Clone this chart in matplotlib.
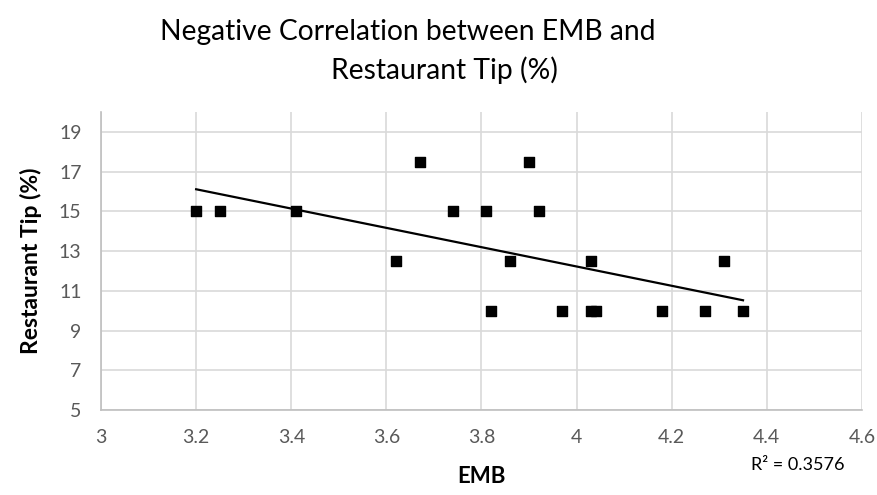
import numpy as np
import matplotlib.pyplot as plt

# EMB score vs restaurant tip (%)
emb = [3.20, 3.25, 3.41, 3.62, 3.67, 3.74, 3.81, 3.82, 3.86, 3.90,
       3.92, 3.97, 4.03, 4.03, 4.04, 4.18, 4.27, 4.31, 4.35]
tip = [15, 15, 15, 12.5, 17.5, 15, 15, 10, 12.5, 17.5,
       15, 10, 12.5, 10, 10, 10, 10, 12.5, 10]

x_ticks = [3, 3.2, 3.4, 3.6, 3.8, 4, 4.2, 4.4, 4.6]
y_ticks = [5, 7, 9, 11, 13, 15, 17, 19]

plt.rcParams['font.family'] = ['Lato', 'DejaVu Sans']

x = np.array(emb)
y = np.array(tip)
slope, intercept = np.polyfit(x, y, 1)
fit = slope * x + intercept
r2 = 1 - np.sum((y - fit) ** 2) / np.sum((y - y.mean()) ** 2)

fig = plt.figure(figsize=(8.77, 4.95), dpi=100)
ax = fig.add_axes([0.1152, 0.1717, 0.8676, 0.602])

ax.scatter(x, y, marker='s', s=52, color='black', zorder=3)
xs = np.array([x.min(), x.max()])
ax.plot(xs, slope * xs + intercept, color='black', lw=1.6, zorder=4)

ax.set_xlim(3, 4.6)
ax.set_ylim(5, 20)
ax.set_xticks(x_ticks)
ax.set_xticklabels([f'{t:g}' for t in x_ticks])
ax.set_yticks(y_ticks)
ax.grid(True, color='#d9d9d9', lw=1.2)
ax.set_axisbelow(True)
for side in ['top', 'right']:
    ax.spines[side].set_visible(False)
for side in ['left', 'bottom']:
    ax.spines[side].set_color('#bfbfbf')
    ax.spines[side].set_linewidth(1.2)
ax.tick_params(length=0, labelsize=14, colors='#595959')
ax.tick_params(axis='y', pad=14)
ax.tick_params(axis='x', pad=14)

ax.set_xlabel('EMB', fontsize=16, fontweight='bold', color='black', labelpad=14)
ax.set_ylabel('Restaurant Tip (%)', fontsize=16.5, fontweight='bold', color='black', labelpad=12)

# two-line title, lines placed as in the original
fig.text(160 / 877, 1 - 40 / 495, 'Negative Correlation between EMB and',
         fontsize=20.3, color='black', ha='left', va='baseline')
fig.text(444 / 877, 1 - 79 / 495, 'Restaurant Tip (%)',
         fontsize=20.3, color='black', ha='center', va='baseline')
fig.text(0.91, 0.061, f'R² = {r2:.4f}', fontsize=13, ha='center', va='center', color='black')

fig.savefig('out.png', dpi=100)
